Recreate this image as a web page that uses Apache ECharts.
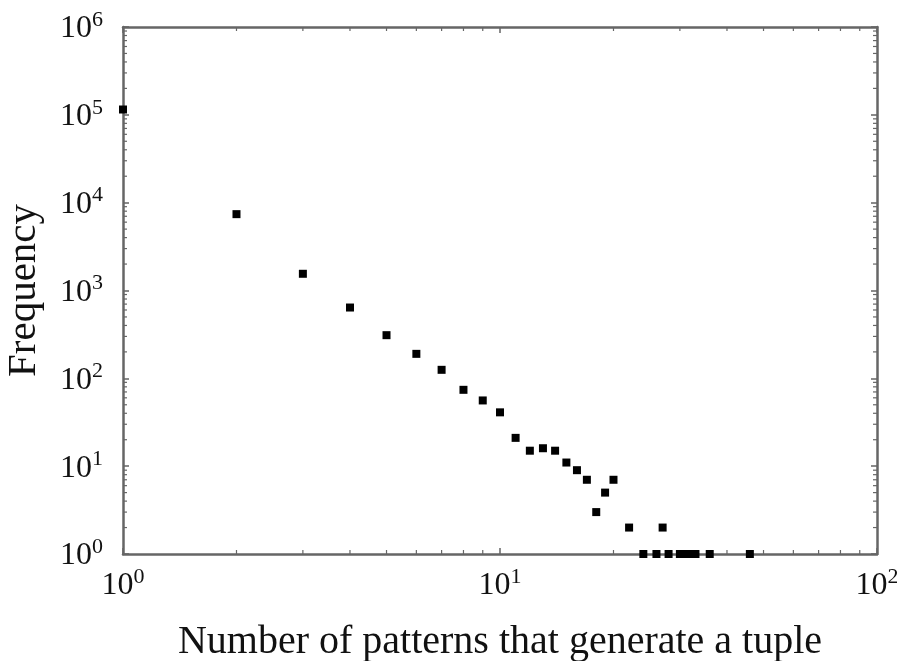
<!DOCTYPE html>
<html>
<head>
<meta charset="utf-8">
<script src="https://cdn.jsdelivr.net/npm/echarts@6/dist/echarts.min.js"></script>
<style>
  html, body { margin: 0; padding: 0; background: #fff; }
  #chart { width: 897px; height: 661px; }
</style>
</head>
<body>
<div id="chart"></div>
<script>
// number of patterns (x) and how often it occurs (y)
const patterns = [1, 2, 3, 4, 5, 6, 7, 8, 9, 10, 11, 12, 13, 14, 15, 16, 17, 18, 19, 20,
  22, 24, 26, 27, 28, 30, 31, 32, 33, 36, 46];
const frequency = [115000, 7400, 1550, 640, 310, 190, 125, 74, 56, 41, 21, 15, 16, 15, 11, 9, 7, 3, 5, 7,
  2, 1, 1, 2, 1, 1, 1, 1, 1, 1, 1];

const xMinorTicks = [2, 3, 4, 5, 6, 7, 8, 9, 20, 30, 40, 50, 60, 70, 80, 90];
const yMinorTicks = [];
[1, 10, 100, 1000, 10000, 100000].forEach(d => {
  [2, 3, 4, 5, 6, 7, 8, 9].forEach(m => yMinorTicks.push(m * d));
});

const serif = '"Liberation Serif", "DejaVu Serif", serif';
const axisColor = '#666';

const powLabel = v => '{b|10}{s|' + Math.round(Math.log10(v)) + '}';
const labelRich = {
  b: { fontFamily: serif, fontSize: 32, color: '#111', lineHeight: 36, verticalAlign: 'bottom' },
  s: { fontFamily: serif, fontSize: 22, color: '#111', lineHeight: 36, verticalAlign: 'top', padding: [0, 0, 15, 0] }
};

const baseAxis = {
  type: 'log',
  logBase: 10,
  axisLine: { show: true, lineStyle: { color: axisColor, width: 2.5 } },
  axisTick: { show: true, inside: true, length: 6, lineStyle: { color: axisColor, width: 1.5 } },
  splitLine: { show: false },
  minorTick: { show: false }
};

const chart = echarts.init(document.getElementById('chart'));

chart.setOption({
  animation: false,
  backgroundColor: '#fff',
  grid: { left: 123, right: 20, top: 27, bottom: 107, containLabel: false, outerBoundsMode: 'none' },
  xAxis: [
    Object.assign({}, baseAxis, {
      min: 1, max: 100,
      name: 'Number of patterns that generate a tuple',
      nameLocation: 'middle',
      nameGap: 68,
      nameTextStyle: { fontFamily: serif, fontSize: 40, color: '#111' },
      axisLabel: { margin: 12, formatter: powLabel, rich: labelRich }
    }),
    Object.assign({}, baseAxis, {
      min: 1, max: 100, position: 'top',
      axisLabel: { show: false }
    })
  ],
  yAxis: [
    Object.assign({}, baseAxis, {
      min: 1, max: 1000000,
      name: 'Frequency',
      nameLocation: 'middle',
      nameRotate: 90,
      nameGap: 78,
      nameTextStyle: { fontFamily: serif, fontSize: 41, color: '#111' },
      axisLabel: { margin: 20, formatter: powLabel, rich: labelRich }
    }),
    Object.assign({}, baseAxis, {
      min: 1, max: 1000000, position: 'right',
      axisLabel: { show: false }
    })
  ],
  series: [
    {
      type: 'scatter',
      data: patterns.map((p, i) => [p, frequency[i]]),
      symbol: 'rect',
      symbolSize: 8,
      itemStyle: { color: '#000', opacity: 1 },
      clip: false
    },
    {
      // minor ticks along the bottom and top edges
      type: 'custom',
      data: xMinorTicks.map(v => [v, 1]),
      silent: true,
      renderItem: (params, api) => {
        const cs = params.coordSys;
        const x = api.coord([api.value(0), 1])[0];
        const style = { stroke: axisColor, lineWidth: 1.2 };
        return {
          type: 'group',
          children: [
            { type: 'line', shape: { x1: x, y1: cs.y + cs.height, x2: x, y2: cs.y + cs.height - 4 }, style },
            { type: 'line', shape: { x1: x, y1: cs.y, x2: x, y2: cs.y + 4 }, style }
          ]
        };
      }
    },
    {
      // minor ticks along the left and right edges
      type: 'custom',
      data: yMinorTicks.map(v => [1, v]),
      silent: true,
      renderItem: (params, api) => {
        const cs = params.coordSys;
        const y = api.coord([1, api.value(1)])[1];
        const style = { stroke: axisColor, lineWidth: 1.2 };
        return {
          type: 'group',
          children: [
            { type: 'line', shape: { x1: cs.x, y1: y, x2: cs.x + 4, y2: y }, style },
            { type: 'line', shape: { x1: cs.x + cs.width, y1: y, x2: cs.x + cs.width - 4, y2: y }, style }
          ]
        };
      }
    }
  ]
});
</script>
</body>
</html>
